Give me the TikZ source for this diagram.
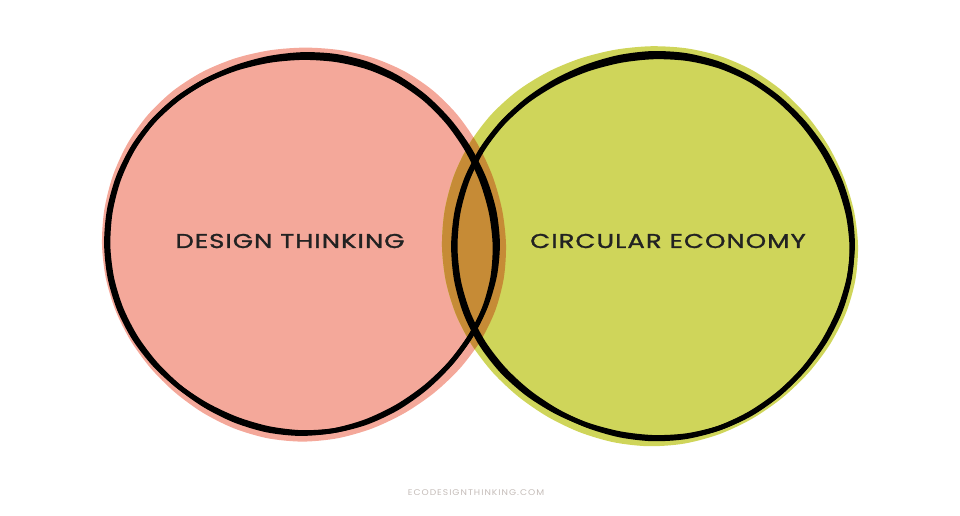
\documentclass[tikz,border=0pt]{standalone}
\usepackage{fontspec}
\setmainfont{Poppins}
\newfontfamily\labelfont[FakeStretch=1.3,LetterSpace=5,FakeBold=1.4]{Poppins}
\newfontfamily\footfont[LetterSpace=12,FakeStretch=1.1]{Poppins}
\usetikzlibrary{calc}
\definecolor{pinkfill}{HTML}{F4A89A}
\definecolor{greenfill}{HTML}{CFD55A}
\definecolor{overlapfill}{HTML}{C68B36}
\definecolor{labelink}{HTML}{222222}
\definecolor{footgray}{HTML}{C4BCB8}
\tikzset{
  ring/.style={line width=4.8pt,black},
  label/.style={text=labelink,font=\labelfont\fontsize{20}{24}\selectfont}
}
% wobbly closed curve: centre, x radius, y radius, phase
\newcommand*{\blob}[4]
  {plot[smooth cycle,domain=0:350,samples=36]
   ({#2*cos(\x)+1.6*sin(3*\x+#4)},{#3*sin(\x)+1.6*cos(4*\x+#4)})}

\begin{document}
\begin{tikzpicture}[x=1pt,y=-1pt]
\useasboundingbox (0,0) rectangle (960,515);
\coordinate (P) at (304,243);
\coordinate (G) at (650,245);

% coloured discs
\path[fill,pinkfill,shift={(P)}] \blob{P}{202}{197}{0};
\path[fill,greenfill,shift={(G)}] \blob{G}{207}{200}{40};
\begin{scope}
\clip[shift={(P)}] \blob{P}{202}{197}{0};
\path[fill,overlapfill,shift={(G)}] \blob{G}{207}{200}{40};
\end{scope}

% black hand drawn rings
\draw[ring,shift={(302,243)}] \blob{P}{194}{189}{70};
\draw[ring,shift={(301.5,244)}] \blob{P}{193}{188}{20};
\draw[ring,shift={(653,246)}] \blob{G}{198}{192}{110};
\draw[ring,shift={(653.5,247)}] \blob{G}{197}{191}{60};

\node[label] (design) at (290,241) {DESIGN THINKING};
\node[label] (circular) at (668,241) {CIRCULAR ECONOMY};
\node[text=footgray,font=\footfont\fontsize{8.3}{10}\selectfont] (site) at (476,493) {ECODESIGNTHINKING.COM};
\end{tikzpicture}
\end{document}
